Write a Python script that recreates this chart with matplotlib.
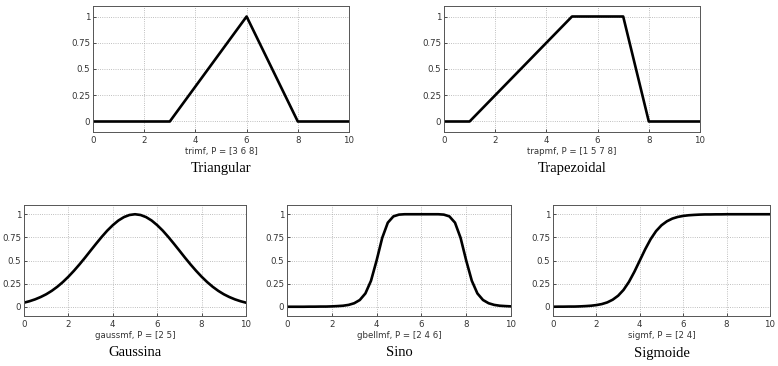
import matplotlib
matplotlib.use("Agg")
import matplotlib.pyplot as plt
import numpy as np

# --- data ----------------------------------------------------------------
tri_x = [0, 3, 6, 8, 10]
tri_y = [0, 0, 1, 0, 0]

trap_x = [0, 1, 5, 7, 8, 10]
trap_y = [0, 0, 1, 1, 0, 0]

# smooth curves sampled every 0.25 on x
curve_x = [i * 0.25 for i in range(41)]

gauss_y = [0.044, 0.060, 0.080, 0.105, 0.135, 0.172, 0.216, 0.267, 0.325, 0.389,
           0.458, 0.531, 0.607, 0.682, 0.755, 0.823, 0.882, 0.932, 0.969, 0.992,
           1.000, 0.992, 0.969, 0.932, 0.882, 0.823, 0.755, 0.682, 0.607, 0.531,
           0.458, 0.389, 0.325, 0.267, 0.216, 0.172, 0.135, 0.105, 0.080, 0.060,
           0.044]

bell_y = [0.000, 0.000, 0.000, 0.000, 0.001, 0.001, 0.002, 0.002, 0.004, 0.007,
          0.011, 0.020, 0.038, 0.073, 0.144, 0.281, 0.500, 0.744, 0.909, 0.977,
          0.996, 1.000, 1.000, 1.000, 1.000, 1.000, 1.000, 1.000, 0.996, 0.977,
          0.909, 0.744, 0.500, 0.281, 0.144, 0.073, 0.038, 0.020, 0.011, 0.007,
          0.004]

sig_y = [0.000, 0.001, 0.001, 0.002, 0.002, 0.004, 0.007, 0.011, 0.018, 0.029,
         0.047, 0.076, 0.119, 0.182, 0.269, 0.378, 0.500, 0.622, 0.731, 0.818,
         0.881, 0.924, 0.953, 0.971, 0.982, 0.989, 0.993, 0.996, 0.998, 0.998,
         0.999, 0.999, 1.000, 1.000, 1.000, 1.000, 1.000, 1.000, 1.000, 1.000,
         1.000]

xlabels = ["trimf, P = [3 6 8]", "trapmf, P = [1 5 7 8]",
           "gaussmf, P = [2 5]", "gbellmf, P = [2 4 6]", "sigmf, P = [2 4]"]
captions = ["Triangular", "Trapezoidal", "Gaussina", "Sino", "Sigmoide"]

W, H = 778, 366
fig = plt.figure(figsize=(W / 100, H / 100), dpi=100)
fig.patch.set_facecolor("white")

# axes boxes in pixels: left, right, top, bottom
boxes = [(93, 349, 6, 132), (444, 700, 6, 132),
         (24, 246, 205, 316), (287, 511, 205, 316), (553, 770, 205, 316)]
series = [(tri_x, tri_y), (trap_x, trap_y),
          (curve_x, gauss_y), (curve_x, bell_y), (curve_x, sig_y)]
cap_y = [168, 168, 353, 353, 353]

for i, (l, r, t, b) in enumerate(boxes):
    ax = fig.add_axes([l / W, (H - b) / H, (r - l) / W, (b - t) / H])
    xs, ys = series[i]
    ax.plot(xs, ys, color='black', linewidth=1.9, solid_joinstyle='round')
    ax.set_xlim(0, 10)
    ax.set_ylim(-0.1, 1.1)
    ax.set_xticks([0, 2, 4, 6, 8, 10])
    ax.set_yticks([0, 0.25, 0.5, 0.75, 1])
    ax.set_yticklabels(['0', '0.25', '0.5', '0.75', '1'])
    ax.tick_params(direction='in', length=2, width=0.6, labelsize=6.2,
                   colors='#333333', pad=3)
    ax.tick_params(axis='y', pad=2)
    ax.grid(True, linestyle=':', color='#aaaaaa', linewidth=0.6)
    for s in ax.spines.values():
        s.set_color('#555555')
        s.set_linewidth(0.7)
    ax.set_xlabel(xlabels[i], fontsize=6.2, color='#333333', labelpad=1)
    fig.text((l + r) / 2 / W, 1 - cap_y[i] / H, captions[i],
             ha='center', va='center', fontsize=10.5,
             family='Liberation Serif', color='black')

plt.savefig("out.png", dpi=100)
